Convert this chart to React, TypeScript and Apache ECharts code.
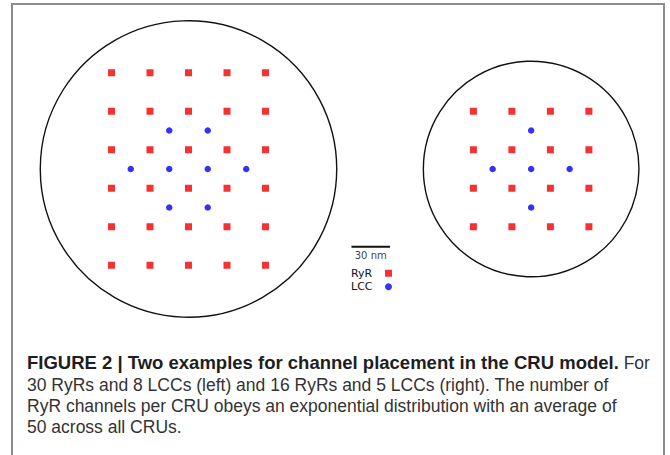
import React, { useEffect, useRef } from "react";
import * as echarts from "echarts";

// ---- data (nm, local coordinates relative to each CRU centre, y up) ----
const CRU_NAMES = ["left", "right"];
const CRU_CENTERS: [number, number][] = [
  [0, 0],
  [267, 0],
];
const CRU_RADII = [115.5, 84];

const RYR_LEFT: [number, number][] = [
  [-60, 75], [-30, 75], [0, 75], [30, 75], [60, 75],
  [-60, 45], [-30, 45], [0, 45], [30, 45], [60, 45],
  [-60, 15], [-30, 15], [0, 15], [30, 15], [60, 15],
  [-60, -15], [-30, -15], [0, -15], [30, -15], [60, -15],
  [-60, -45], [-30, -45], [0, -45], [30, -45], [60, -45],
  [-60, -75], [-30, -75], [0, -75], [30, -75], [60, -75],
];
const LCC_LEFT: [number, number][] = [
  [-15, 30], [15, 30],
  [-45, 0], [-15, 0], [15, 0], [45, 0],
  [-15, -30], [15, -30],
];
const RYR_RIGHT: [number, number][] = [
  [-45, 45], [-15, 45], [15, 45], [45, 45],
  [-45, 15], [-15, 15], [15, 15], [45, 15],
  [-45, -15], [-15, -15], [15, -15], [45, -15],
  [-45, -45], [-15, -45], [15, -45], [45, -45],
];
const LCC_RIGHT: [number, number][] = [
  [0, 30],
  [-30, 0], [0, 0], [30, 0],
  [0, -30],
];

const SCALE_BAR = { x0: 127, x1: 157, y: -60.5, label: "30 nm" };
const LEGEND_NAMES = ["RyR", "LCC"];

const CAPTION_BOLD = "FIGURE 2 | Two examples for channel placement in the CRU model.";
const CAPTION_LINES = [
  " For",
  "30 RyRs and 8 LCCs (left) and 16 RyRs and 5 LCCs (right). The number of",
  "RyR channels per CRU obeys an exponential distribution with an average of",
  "50 across all CRUs.",
];

// ---- layout ----
const W = 670;
const H = 455;
const PX_PER_NM = 38.5 / 30;
const ORIGIN_X = 188.5;
const ORIGIN_Y = 169;

function shift(points: [number, number][], c: [number, number]) {
  return points.map(([x, y]) => [x + c[0], y + c[1]]);
}

export default function App() {
  const ref = useRef<HTMLDivElement>(null);
  useEffect(() => {
    if (!ref.current) return;
    const chart = echarts.init(ref.current, undefined, { renderer: "svg" });
    const ryr = [...shift(RYR_LEFT, CRU_CENTERS[0]), ...shift(RYR_RIGHT, CRU_CENTERS[1])];
    const lcc = [...shift(LCC_LEFT, CRU_CENTERS[0]), ...shift(LCC_RIGHT, CRU_CENTERS[1])];
    const circles = CRU_NAMES.map((n, i) => [CRU_CENTERS[i][0], CRU_CENTERS[i][1], CRU_RADII[i]]);

    const captionFont = "Liberation Sans";
    const capX = 27;
    const capY = [362.5, 384.5, 405.5, 426.5];
    const capSize = 17.5;

    chart.setOption({
      animation: false,
      backgroundColor: "#ffffff",
      grid: { left: 0, right: 0, top: 0, bottom: 0 },
      xAxis: {
        type: "value",
        min: -ORIGIN_X / PX_PER_NM,
        max: (W - ORIGIN_X) / PX_PER_NM,
        show: false,
      },
      yAxis: {
        type: "value",
        min: -(H - ORIGIN_Y) / PX_PER_NM,
        max: ORIGIN_Y / PX_PER_NM,
        show: false,
      },
      legend: {
        data: [
          { name: LEGEND_NAMES[0], icon: "rect" },
          { name: LEGEND_NAMES[1], icon: "circle" },
        ],
        orient: "vertical",
        align: "right",
        left: 351,
        top: 267,
        padding: 0,
        itemGap: 1,
        itemWidth: 7,
        itemHeight: 7,
        selectedMode: false,
        formatter: "{a|{name}}",
        textStyle: {
          rich: {
            a: {
              width: 29,
              height: 12.5,
              lineHeight: 12.5,
              align: "left",
              fontSize: 11,
              fontFamily: "DejaVu Sans",
              color: "#111",
            },
          },
        },
      },
      series: [
        {
          type: "custom",
          name: "CRU",
          silent: true,
          data: circles,
          renderItem: (params: any, api: any) => {
            const c = api.coord([api.value(0), api.value(1)]);
            const r = api.size([api.value(2), 0])[0];
            return {
              type: "circle",
              shape: { cx: c[0], cy: c[1], r },
              style: { fill: "none", stroke: "#111", lineWidth: 1.4 },
            };
          },
        },
        {
          type: "custom",
          name: "scale",
          silent: true,
          data: [[SCALE_BAR.x0, SCALE_BAR.x1, SCALE_BAR.y]],
          renderItem: (params: any, api: any) => {
            const a = api.coord([api.value(0), api.value(2)]);
            const b = api.coord([api.value(1), api.value(2)]);
            return {
              type: "group",
              children: [
                {
                  type: "line",
                  shape: { x1: a[0], y1: a[1], x2: b[0], y2: b[1] },
                  style: { stroke: "#111", lineWidth: 2 },
                },
                {
                  type: "text",
                  x: (a[0] + b[0]) / 2,
                  y: a[1] + 9,
                  style: {
                    text: SCALE_BAR.label,
                    fontSize: 10,
                    fontFamily: "DejaVu Sans",
                    fill: "#444",
                    align: "center",
                    verticalAlign: "middle",
                  },
                },
              ],
            };
          },
        },
        {
          type: "scatter",
          name: LEGEND_NAMES[0],
          symbol: "rect",
          symbolSize: 7,
          itemStyle: { color: "#f00000" },
          data: ryr,
        },
        {
          type: "scatter",
          name: LEGEND_NAMES[1],
          symbol: "circle",
          symbolSize: 6.5,
          itemStyle: { color: "#0000ee" },
          data: lcc,
        },
      ],
      graphic: [
        {
          type: "rect",
          silent: true,
          shape: { x: 12, y: 4, width: 652, height: 480 },
          style: { fill: "none", stroke: "#8c8c8c", lineWidth: 2 },
        },
        {
          type: "text",
          x: capX,
          y: capY[0],
          style: {
            text: "{b|" + CAPTION_BOLD + "}{n|" + CAPTION_LINES[0] + "}",
            verticalAlign: "middle",
            rich: {
              b: { fontFamily: captionFont, fontSize: 18.5, fontWeight: "bold", fill: "#1e1e1e", color: "#1e1e1e" },
              n: { fontFamily: captionFont, fontSize: capSize, fill: "#333", color: "#333" },
            },
          },
        },
        ...CAPTION_LINES.slice(1).map((t, i) => ({
          type: "text",
          x: capX,
          y: capY[i + 1],
          style: {
            text: t,
            fontFamily: captionFont,
            fontSize: capSize,
            fill: "#333",
            verticalAlign: "middle",
          },
        })),
      ],
    });
    return () => chart.dispose();
  }, []);
  return (
    <div
      ref={ref}
      style={{ position: "fixed", left: 0, top: 0, width: W, height: H, background: "#fff" }}
    />
  );
}
